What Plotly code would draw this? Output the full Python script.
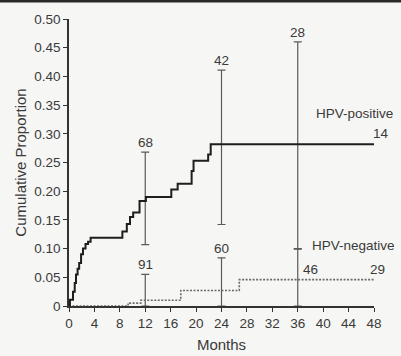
import plotly.graph_objects as go

# HPV-positive step curve (months, cumulative proportion)
pos_t = [0, 0.15, 0.63, 0.9, 1.1, 1.35, 1.6, 1.9, 2.2, 2.6, 3.0, 3.4, 8.4, 9.1, 9.6, 10.1, 11.1, 12.1, 16.1, 17.1, 19.3, 19.6, 21.9, 22.3, 48]
pos_p = [0, 0.011, 0.025, 0.04, 0.055, 0.065, 0.075, 0.09, 0.10, 0.108, 0.112, 0.119, 0.13, 0.143, 0.155, 0.163, 0.183, 0.19, 0.203, 0.213, 0.235, 0.253, 0.264, 0.282, 0.282]

# HPV-negative step curve
neg_t = [0, 9.3, 11.3, 17.6, 26.8, 48]
neg_p = [0, 0.005, 0.010, 0.027, 0.046, 0.046]

# Confidence bars at 12, 24, 36 months
ci_t = [12, 24, 36]
pos_ci_mid = [0.19, 0.282, 0.282]
pos_ci_hi = [0.268, 0.411, 0.46]
pos_ci_lo = [0.107, 0.142, 0.099]
pos_n = ["68", "42", "28"]

neg_ci_mid = [0.010, 0.027, 0.046]
neg_ci_hi = [0.055, 0.084, 0.100]
neg_ci_lo = [0.0, 0.0, 0.0]
neg_n = ["91", "60", "46"]

x_ticks = list(range(0, 49, 4))
y_ticks = [0, 0.05, 0.10, 0.15, 0.20, 0.25, 0.30, 0.35, 0.40, 0.45, 0.50]
y_tick_text = ["0", "0.05", "0.10", "0.15", "0.20", "0.25", "0.30", "0.35", "0.40", "0.45", "0.50"]

FONT = "Liberation Sans, Arial, Helvetica, sans-serif"
BAR = "#5a5a5a"

fig = go.Figure()

# error bars (drawn first)
fig.add_trace(go.Scatter(
    x=ci_t, y=pos_ci_mid, mode="markers", marker=dict(size=1, opacity=0),
    error_y=dict(type="data", symmetric=False,
                 array=[h - m for h, m in zip(pos_ci_hi, pos_ci_mid)],
                 arrayminus=[m - l for m, l in zip(pos_ci_mid, pos_ci_lo)],
                 color=BAR, thickness=1.2, width=4),
    showlegend=False, hoverinfo="skip"))
fig.add_trace(go.Scatter(
    x=ci_t, y=neg_ci_mid, mode="markers", marker=dict(size=1, opacity=0),
    error_y=dict(type="data", symmetric=False,
                 array=[h - m for h, m in zip(neg_ci_hi, neg_ci_mid)],
                 arrayminus=[m - l for m, l in zip(neg_ci_mid, neg_ci_lo)],
                 color=BAR, thickness=1.2, width=4),
    showlegend=False, hoverinfo="skip"))

fig.add_trace(go.Scatter(x=neg_t, y=neg_p, mode="lines", line_shape="hv",
                         line=dict(color="#6a6a6a", width=1.6, dash="2px,1.5px"),
                         showlegend=False))
fig.add_trace(go.Scatter(x=pos_t, y=pos_p, mode="lines", line_shape="hv",
                         line=dict(color="#1e1e1e", width=2),
                         showlegend=False))

tfont = dict(family=FONT, size=13.5, color="#3a3a3a")
# n-at-risk labels above bars
for t, hi, n in zip(ci_t, pos_ci_hi, pos_n):
    fig.add_annotation(x=t, y=hi, text=n, showarrow=False, yanchor="bottom",
                       yshift=0, font=tfont)
for t, hi, n in zip(ci_t[:2], neg_ci_hi[:2], neg_n[:2]):
    fig.add_annotation(x=t, y=hi, text=n, showarrow=False, yanchor="bottom",
                       yshift=0, font=tfont)
fig.add_annotation(x=36, y=neg_ci_mid[2], text=neg_n[2], showarrow=False,
                   xanchor="left", yanchor="bottom", xshift=3, yshift=1, font=tfont)
fig.add_annotation(x=48, y=neg_p[-1], text="29", showarrow=False,
                   xanchor="center", yanchor="bottom", xshift=3, yshift=1, font=tfont)
fig.add_annotation(x=48, y=pos_p[-1], text="14", showarrow=False,
                   xanchor="center", yanchor="bottom", xshift=7, yshift=1, font=tfont)
fig.add_annotation(x=44.9, y=0.335, text="HPV-positive", showarrow=False,
                   font=tfont, yanchor="middle")
fig.add_annotation(x=44.7, y=0.105, text="HPV-negative", showarrow=False,
                   font=tfont, yanchor="middle")

# scan top edge
fig.add_shape(type="line", xref="paper", yref="paper", x0=-0.3, x1=1.2,
              y0=1.063, y1=1.063, line=dict(color="#2a2a2a", width=3))

fig.update_layout(
    width=401, height=356,
    margin=dict(l=69, r=27, t=19, b=50, autoexpand=False),
    paper_bgcolor="#f6f6f4", plot_bgcolor="#f6f6f4",
    font=dict(family=FONT, size=13.5, color="#3a3a3a"),
    xaxis=dict(range=[0, 48], tickvals=x_ticks, ticks="outside", ticklen=4,
               tickcolor="#333", showline=True, linecolor="#333", linewidth=1.5,
               showgrid=False, zeroline=False, tickfont=dict(size=13.5),
               automargin=False,
               title=dict(text="Months", font=dict(size=15), standoff=10)),
    yaxis=dict(range=[0, 0.5], tickvals=y_ticks, ticktext=y_tick_text,
               ticks="outside", ticklen=4, tickcolor="#333", showline=True,
               linecolor="#333", linewidth=1.5, showgrid=False, zeroline=False,
               tickfont=dict(size=13.5), automargin=False,
               title=dict(text="Cumulative Proportion", font=dict(size=15), standoff=4)),
)

fig.write_html("out.html")
